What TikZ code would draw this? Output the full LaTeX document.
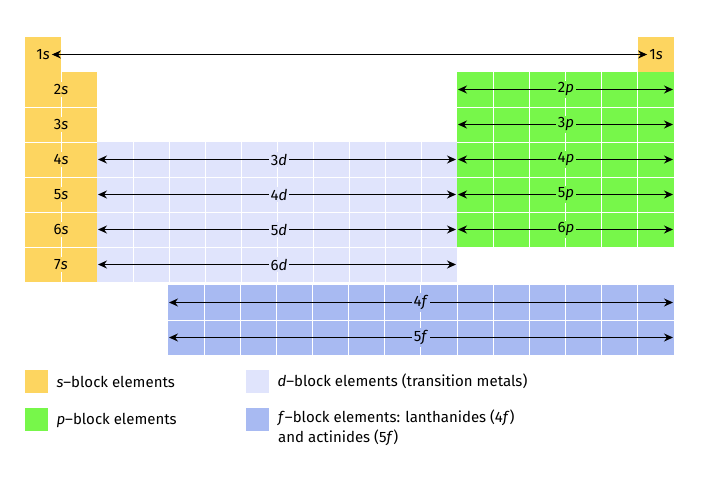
\documentclass[tikz,border=0pt]{standalone}
\usepackage{fontspec}
\setmainfont{Fira Sans}
\usetikzlibrary{arrows.meta}
\definecolor{sY}{HTML}{FDD560}
\definecolor{pG}{HTML}{77F74A}
\definecolor{dL}{HTML}{E0E4FC}
\definecolor{fB}{HTML}{A8BAF2}
\begin{document}
\begin{tikzpicture}[x=1pt,y=-1pt,
  arr/.style={{Stealth[length=9pt,width=8pt]}-{Stealth[length=9pt,width=8pt]},line width=1.1pt},
  lab/.style={font=\fontsize{15}{17}\selectfont,inner sep=2pt},
  leg/.style={font=\fontsize{15}{20}\selectfont,anchor=west,align=left}]
\useasboundingbox (0,0) rectangle (707,477);
% s block
\fill[sY] (25,37) rectangle (61,72);
\fill[sY] (638,37) rectangle (674,72);
\fill[sY] (25,72) rectangle (97,282);
\draw[white,line width=1pt] (61,72)--(61,282);
\foreach \y in {107,142,177,212,247} \draw[white,line width=1pt] (25,\y)--(97,\y);
% d block
\fill[dL] (97,142) rectangle (457,282);
\foreach \i in {1,...,9} \draw[white,line width=1pt] (97+\i*36,142)--(97+\i*36,282);
\foreach \y in {177,212,247} \draw[white,line width=1pt] (97,\y)--(457,\y);
% p block
\fill[pG] (457,72) rectangle (674,247);
\foreach \i in {1,...,5} \draw[white,line width=1pt] (457+\i*36.17,72)--(457+\i*36.17,247);
\foreach \y in {107,142,177,212} \draw[white,line width=1pt] (457,\y)--(674,\y);
% f block
\fill[fB] (168,285) rectangle (674,355);
\foreach \i in {1,...,13} \draw[white,line width=1pt] (168+\i*36.14,285)--(168+\i*36.14,355);
\draw[white,line width=1pt] (168,320)--(674,320);
% s labels
\node[lab] (s1a) at (43,54.5) {1\textit{s}};
\node[lab] (s1b) at (656,54.5) {1\textit{s}};
\foreach \n/\y in {2/89.5,3/124.5,4/159.5,5/194.5,6/229.5,7/264.5} \node[lab,fill=sY] (s\n) at (61,\y) {\n\textit{s}};
\draw[arr] (s1a.east) -- (s1b.west);
\foreach \n/\y in {3/159.5,4/194.5,5/229.5,6/264.5}{
  \coordinate (dl\n) at (98,\y); \coordinate (dr\n) at (456,\y);
  \draw[arr] (dl\n) -- (dr\n);
  \node[lab,fill=dL] (d\n) at (279,\y) {\n\textit{d}};}
\foreach \n/\y in {2/89.5,3/124.5,4/159.5,5/194.5,6/229.5}{
  \coordinate (pl\n) at (458,\y); \coordinate (pr\n) at (673,\y);
  \draw[arr] (pl\n) -- (pr\n);
  \node[lab,fill=pG] (p\n) at (566,\y) {\n\textit{p}};}
\foreach \n/\y in {4/302.5,5/337.5}{
  \coordinate (fl\n) at (169,\y); \coordinate (fr\n) at (673,\y);
  \draw[arr] (fl\n) -- (fr\n);
  \node[lab,fill=fB] (f\n) at (421,\y) {\n\textit{f}};}
% legend
\fill[sY] (25,370) rectangle (48,393); \node[leg] (l1) at (53,381.5) {\textit{s}–block elements};
\fill[pG] (25,408) rectangle (48,431); \node[leg] (l2) at (53,420) {\textit{p}–block elements};
\fill[dL] (246,370) rectangle (269,393); \node[leg] (l3) at (274,381.5) {\textit{d}–block elements (transition metals)};
\fill[fB] (246,408) rectangle (269,431); \node[leg,anchor=north west,inner sep=0pt] (l4) at (278,410) {\textit{f}–block elements: lanthanides (4\textit{f})\\and actinides (5\textit{f})};
\end{tikzpicture}
\end{document}
